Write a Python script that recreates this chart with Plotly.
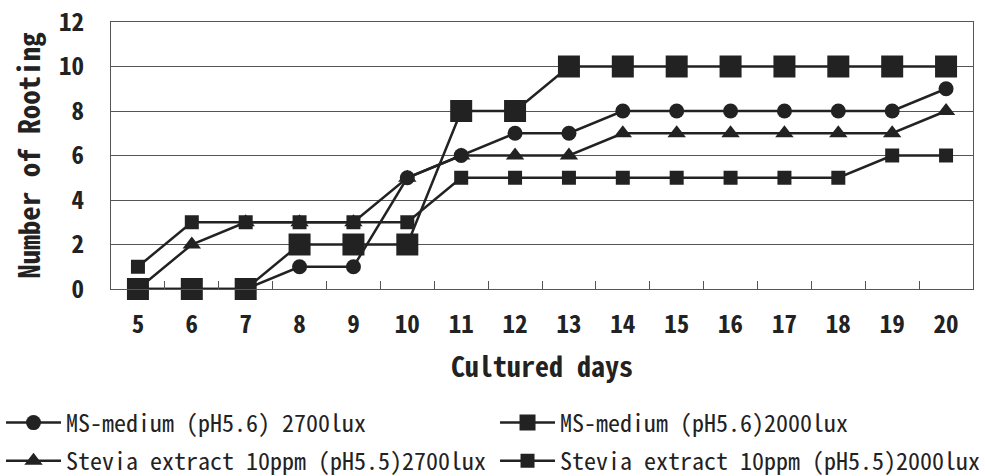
import plotly.graph_objects as go

days = [str(d) for d in range(5, 21)]
ms_2700 = [0, 0, 0, 1, 1, 5, 6, 7, 7, 8, 8, 8, 8, 8, 8, 9]
ms_2000 = [0, 0, 0, 2, 2, 2, 8, 8, 10, 10, 10, 10, 10, 10, 10, 10]
st_2700 = [0, 2, 3, 3, 3, 5, 6, 6, 6, 7, 7, 7, 7, 7, 7, 8]
st_2000 = [1, 3, 3, 3, 3, 3, 5, 5, 5, 5, 5, 5, 5, 5, 6, 6]

names = [
    "MS-medium (pH5.6) 2700lux",
    "MS-medium (pH5.6)2000lux",
    "Stevia extract 10ppm (pH5.5)2700lux",
    "Stevia extract 10ppm (pH5.5)2000lux",
]

MONO = "Noto Sans Mono CJK JP, DejaVu Sans Mono, monospace"
INK = "#222222"

fig = go.Figure()
# drawing order: small square, triangle, circle, big square (on top)
specs = [
    (st_2000, names[3], "square", 14, "legend2", 2),
    (st_2700, names[2], "triangle-up", 16, "legend", 2),
    (ms_2700, names[0], "circle", 15, "legend", 1),
    (ms_2000, names[1], "square", 22, "legend2", 1),
]
for vals, nm, sym, sz, leg, rank in specs:
    fig.add_trace(go.Scatter(
        x=days, y=vals, name=nm, mode="lines+markers",
        line=dict(color=INK, width=2.5),
        marker=dict(symbol=sym, size=sz, color=INK),
        legend=leg, legendrank=rank, legendgroup=nm, cliponaxis=False,
    ))

legend_common = dict(
    orientation="v", yanchor="top", y=-0.4175,
    itemwidth=55, tracegroupgap=4, traceorder="grouped",
    font=dict(family=MONO, size=24, color=INK),
    itemsizing="trace", bgcolor="rgba(0,0,0,0)",
)

fig.update_layout(
    width=985, height=476,
    margin=dict(l=111, r=12, t=22, b=187, autoexpand=False),
    paper_bgcolor="white", plot_bgcolor="white",
    showlegend=True,
    legend=dict(x=-0.1276, xanchor="left", **legend_common),
    legend2=dict(x=0.4455, xanchor="left", **legend_common),
    xaxis=dict(
        type="category", range=[-0.5, 15.5],
        tickson="boundaries", ticks="inside", ticklen=8,
        tickcolor="#555555", showline=True, linecolor="#555555", linewidth=1.2,
        mirror=True, showgrid=False, automargin=False,
        tickfont=dict(family=MONO, size=25, color=INK, weight="bold"),
        ticklabelstandoff=13,
        title=dict(text="Cultured days", standoff=18,
                   font=dict(family=MONO, size=28, color=INK, weight="bold")),
    ),
    yaxis=dict(
        range=[0, 12], dtick=2, showgrid=True, gridcolor="#555555", gridwidth=1,
        showline=True, linecolor="#555555", linewidth=1.2, mirror=True,
        ticks="", ticklabelstandoff=21, zeroline=False, automargin=False,
        tickfont=dict(family=MONO, size=25, color=INK, weight="bold"),
        title=dict(text="Number of Rooting", standoff=9,
                   font=dict(family=MONO, size=29, color=INK, weight="bold")),
    ),
)

fig.write_html("out.html")
